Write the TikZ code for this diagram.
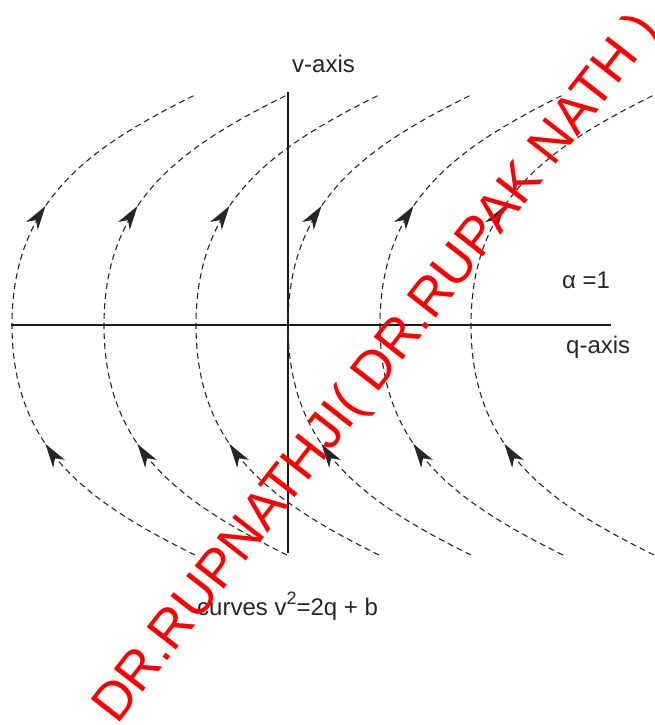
\documentclass[tikz,border=0pt]{standalone}
\usepackage{fontspec}
\setmainfont{Liberation Sans}
\usepackage{xcolor}
\usetikzlibrary{arrows.meta,decorations.markings}

\begin{document}
\begin{tikzpicture}[
  x=1pt, y=-1pt,
  axis/.style={line width=2.4pt, draw=black!90},
  flow/.style={dashed, dash pattern=on 6pt off 4pt, line width=1.1pt, draw=black!85,
    decoration={markings,
      mark=at position 0.30 with {\arrow[solid]{Stealth[length=24pt,width=14pt,inset=7pt]}},
      mark=at position 0.70 with {\arrow[solid]{Stealth[length=24pt,width=14pt,inset=7pt]}}},
    postaction={decorate}},
  lbl/.style={anchor=base west, inner sep=0pt, text=black!85, font=\fontsize{24}{28}\selectfont},
  stamp/.style={anchor=base west, inner sep=0pt, text=red, rotate=52, font=\fontsize{53.5}{60}\selectfont}
]
  \useasboundingbox (0,0) rectangle (654,725);

  % axes
  \coordinate (qstart) at (11,325);
  \coordinate (qend) at (611,325);
  \coordinate (vtop) at (288,92);
  \coordinate (vbot) at (288,553);
  \draw[axis] (qstart) -- (qend);
  \draw[axis] (vtop) -- (vbot);

  % family of parabolas
  \foreach \x in {12,104,196,288,380,471}
    \draw[flow] ({\x+183},555) .. controls ({\x+78},503) and (\x,450) .. (\x,325)
                .. controls (\x,200) and ({\x+78},147) .. ({\x+183},95);

  % labels
  \node[lbl] (vlabel) at (292,72) {v-axis};
  \node[lbl] (alphalabel) at (562,288) {α =1};
  \node[lbl] (qlabel) at (566,353) {q-axis};
  \node[lbl] (curveslabel) at (197,615) {curves v\raisebox{0.42em}{\fontsize{18}{18}\selectfont 2}=2q + b};

  \node[stamp] (watermark) at (117,726) {DR.RUPNATHJI( DR.RUPAK NATH )};
\end{tikzpicture}
\end{document}
